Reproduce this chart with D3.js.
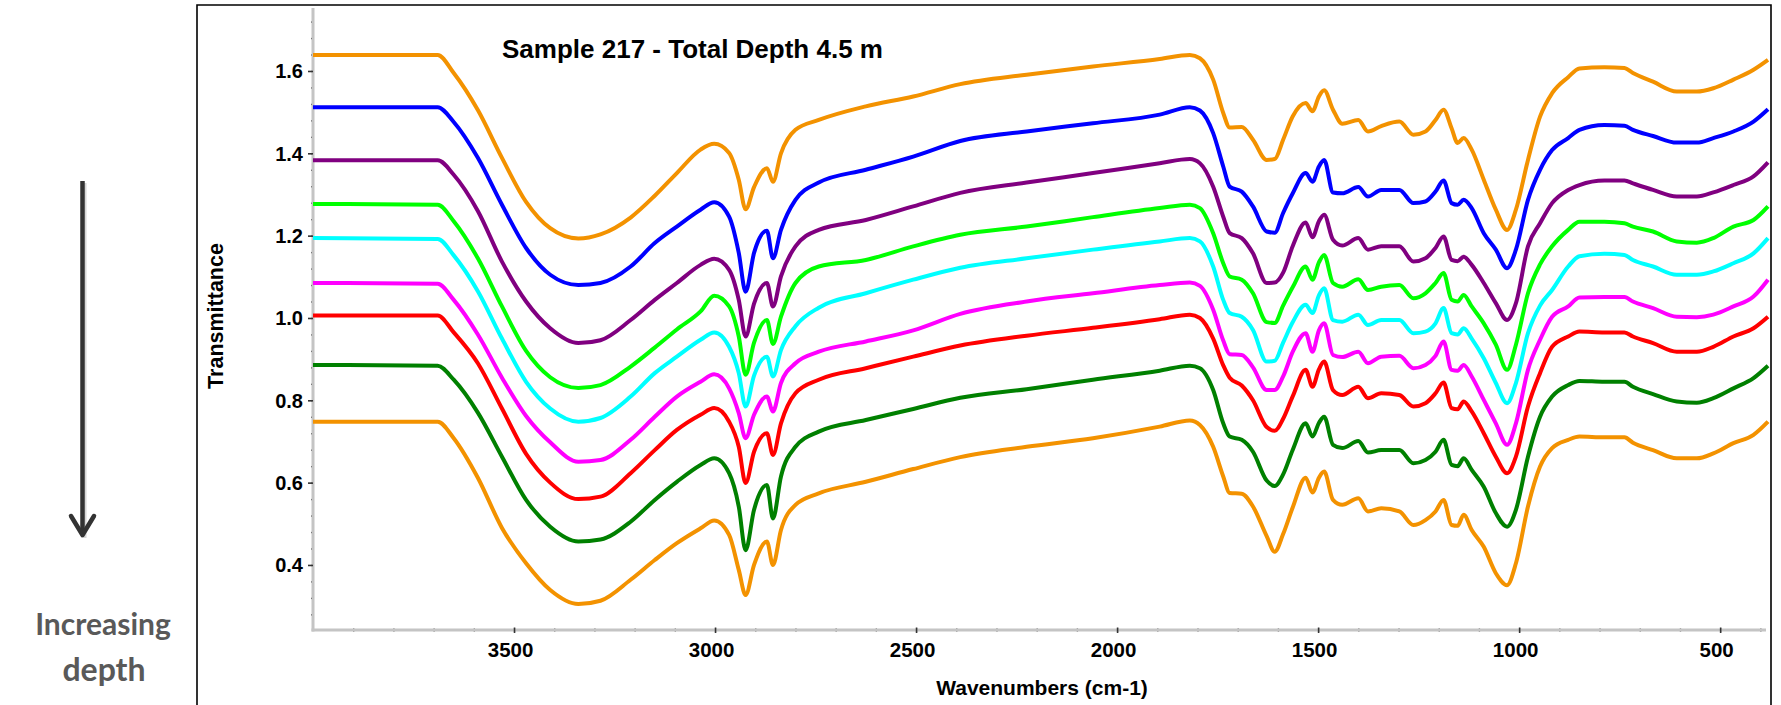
<!DOCTYPE html>
<html>
<head>
<meta charset="utf-8">
<script src="https://cdn.jsdelivr.net/npm/d3@7"></script>
<style>
  body { margin: 0; background: #fff; }
  svg { display: block; }
  .lbl { font-family: "Liberation Sans", Arial, sans-serif; font-weight: bold; fill: #000; }
</style>
</head>
<body>
<svg id="chart" width="1781" height="705"></svg>
<script>
// wavenumber grid (cm-1), shared by every spectrum
var wavenumbers = [4000, 3690, 3650, 3590, 3530, 3470, 3410, 3340, 3285, 3210,
  3150, 3095, 3036, 3002, 2965, 2941, 2924, 2903, 2871, 2856,
  2836, 2800, 2742, 2625, 2507, 2390, 2225, 2060, 1894, 1819,
  1794, 1761, 1736, 1720, 1690, 1662, 1628, 1608, 1587, 1563,
  1531, 1514, 1498, 1485, 1463, 1440, 1400, 1376, 1343, 1298,
  1263, 1233, 1208, 1188, 1168, 1153, 1138, 1118, 1088, 1058,
  1030, 1008, 978, 948, 918, 878, 850, 788, 738, 717,
  667, 608, 558, 517, 467, 417, 381];

// transmittance, top spectrum first (shallowest)
var orangeTop = [1.639, 1.639, 1.595, 1.505, 1.389, 1.282, 1.218, 1.193, 1.203, 1.244,
  1.297, 1.352, 1.409, 1.423, 1.401, 1.336, 1.264, 1.318, 1.364, 1.331,
  1.400, 1.457, 1.481, 1.514, 1.538, 1.568, 1.591, 1.611, 1.629, 1.639,
  1.631, 1.579, 1.498, 1.463, 1.464, 1.433, 1.384, 1.386, 1.433, 1.490,
  1.522, 1.502, 1.538, 1.553, 1.506, 1.472, 1.481, 1.453, 1.466, 1.477,
  1.445, 1.453, 1.481, 1.506, 1.461, 1.425, 1.437, 1.409, 1.336, 1.263,
  1.214, 1.263, 1.384, 1.489, 1.546, 1.585, 1.606, 1.609, 1.607, 1.595,
  1.574, 1.550, 1.550, 1.558, 1.579, 1.603, 1.627];
var blue = [1.512, 1.512, 1.476, 1.389, 1.275, 1.170, 1.105, 1.080, 1.085, 1.125,
  1.182, 1.222, 1.263, 1.281, 1.246, 1.158, 1.064, 1.158, 1.212, 1.145,
  1.214, 1.287, 1.329, 1.360, 1.392, 1.430, 1.453, 1.473, 1.494, 1.512,
  1.504, 1.449, 1.368, 1.319, 1.307, 1.271, 1.210, 1.207, 1.255, 1.303,
  1.352, 1.331, 1.368, 1.384, 1.305, 1.303, 1.318, 1.295, 1.311, 1.311,
  1.279, 1.283, 1.307, 1.334, 1.279, 1.275, 1.287, 1.267, 1.206, 1.166,
  1.121, 1.166, 1.287, 1.360, 1.408, 1.437, 1.457, 1.469, 1.467, 1.457,
  1.442, 1.426, 1.426, 1.437, 1.453, 1.477, 1.507];
var purple = [1.383, 1.383, 1.348, 1.260, 1.137, 1.040, 0.975, 0.939, 0.946, 0.995,
  1.044, 1.085, 1.129, 1.144, 1.117, 1.044, 0.955, 1.035, 1.085, 1.028,
  1.101, 1.174, 1.214, 1.238, 1.271, 1.304, 1.329, 1.352, 1.376, 1.386,
  1.376, 1.319, 1.246, 1.206, 1.194, 1.157, 1.085, 1.086, 1.110, 1.175,
  1.232, 1.196, 1.235, 1.251, 1.190, 1.176, 1.194, 1.166, 1.174, 1.174,
  1.137, 1.145, 1.170, 1.198, 1.141, 1.138, 1.149, 1.129, 1.085, 1.036,
  0.995, 1.036, 1.174, 1.230, 1.279, 1.311, 1.323, 1.334, 1.334, 1.327,
  1.311, 1.295, 1.295, 1.305, 1.323, 1.344, 1.378];
var lime = [1.277, 1.275, 1.235, 1.145, 1.028, 0.920, 0.856, 0.830, 0.837, 0.882,
  0.928, 0.972, 1.016, 1.054, 1.028, 0.955, 0.862, 0.940, 0.995, 0.937,
  1.003, 1.085, 1.125, 1.141, 1.174, 1.202, 1.222, 1.245, 1.267, 1.275,
  1.267, 1.206, 1.133, 1.101, 1.093, 1.060, 0.990, 0.988, 1.030, 1.075,
  1.125, 1.093, 1.135, 1.153, 1.085, 1.076, 1.094, 1.068, 1.076, 1.080,
  1.048, 1.060, 1.085, 1.109, 1.044, 1.040, 1.056, 1.028, 0.987, 0.935,
  0.874, 0.935, 1.060, 1.130, 1.174, 1.214, 1.234, 1.234, 1.230, 1.222,
  1.210, 1.186, 1.183, 1.194, 1.222, 1.238, 1.271];
var cyan = [1.194, 1.192, 1.152, 1.065, 0.950, 0.845, 0.780, 0.748, 0.757, 0.809,
  0.866, 0.906, 0.947, 0.965, 0.930, 0.866, 0.785, 0.860, 0.906, 0.858,
  0.922, 0.980, 1.025, 1.060, 1.093, 1.122, 1.145, 1.166, 1.186, 1.194,
  1.186, 1.125, 1.044, 1.012, 1.003, 0.971, 0.894, 0.896, 0.940, 0.990,
  1.032, 1.012, 1.055, 1.072, 0.995, 0.991, 1.008, 0.983, 0.995, 0.995,
  0.963, 0.967, 0.987, 1.024, 0.963, 0.960, 0.975, 0.950, 0.902, 0.842,
  0.793, 0.842, 0.963, 1.030, 1.068, 1.125, 1.150, 1.156, 1.153, 1.141,
  1.125, 1.105, 1.105, 1.113, 1.133, 1.157, 1.194];
var magenta = [1.085, 1.083, 1.044, 0.960, 0.855, 0.762, 0.698, 0.651, 0.655, 0.704,
  0.760, 0.809, 0.845, 0.863, 0.829, 0.769, 0.708, 0.765, 0.809, 0.773,
  0.842, 0.890, 0.918, 0.943, 0.970, 1.010, 1.040, 1.060, 1.080, 1.086,
  1.078, 1.020, 0.945, 0.912, 0.910, 0.880, 0.825, 0.825, 0.858, 0.918,
  0.963, 0.918, 0.970, 0.987, 0.910, 0.905, 0.918, 0.890, 0.906, 0.908,
  0.878, 0.886, 0.908, 0.943, 0.874, 0.872, 0.886, 0.858, 0.801, 0.744,
  0.692, 0.744, 0.874, 0.947, 1.003, 1.028, 1.050, 1.051, 1.051, 1.040,
  1.024, 1.003, 1.002, 1.008, 1.028, 1.052, 1.093];
var red = [1.006, 1.006, 0.965, 0.890, 0.780, 0.670, 0.600, 0.560, 0.566, 0.623,
  0.679, 0.728, 0.765, 0.781, 0.748, 0.687, 0.599, 0.675, 0.720, 0.667,
  0.744, 0.817, 0.850, 0.878, 0.906, 0.933, 0.957, 0.976, 0.997, 1.008,
  1.000, 0.950, 0.885, 0.855, 0.836, 0.800, 0.735, 0.726, 0.755, 0.810,
  0.874, 0.833, 0.875, 0.894, 0.825, 0.813, 0.833, 0.805, 0.817, 0.813,
  0.785, 0.793, 0.817, 0.843, 0.781, 0.778, 0.797, 0.773, 0.720, 0.663,
  0.623, 0.663, 0.785, 0.866, 0.930, 0.955, 0.967, 0.965, 0.965, 0.955,
  0.939, 0.918, 0.918, 0.930, 0.955, 0.975, 1.003];
var green = [0.886, 0.884, 0.850, 0.770, 0.663, 0.558, 0.493, 0.457, 0.462, 0.505,
  0.558, 0.602, 0.643, 0.659, 0.623, 0.542, 0.436, 0.534, 0.594, 0.513,
  0.615, 0.687, 0.724, 0.752, 0.779, 0.806, 0.827, 0.850, 0.872, 0.884,
  0.878, 0.825, 0.744, 0.712, 0.704, 0.675, 0.605, 0.592, 0.620, 0.680,
  0.744, 0.712, 0.745, 0.760, 0.692, 0.684, 0.701, 0.673, 0.679, 0.679,
  0.647, 0.655, 0.675, 0.704, 0.643, 0.640, 0.659, 0.631, 0.590, 0.526,
  0.493, 0.534, 0.663, 0.760, 0.809, 0.837, 0.847, 0.845, 0.845, 0.833,
  0.815, 0.797, 0.794, 0.805, 0.829, 0.854, 0.884];
var orangeBottom = [0.748, 0.748, 0.708, 0.612, 0.490, 0.404, 0.339, 0.305, 0.313, 0.364,
  0.412, 0.453, 0.489, 0.508, 0.473, 0.388, 0.327, 0.400, 0.457, 0.400,
  0.485, 0.546, 0.574, 0.602, 0.633, 0.662, 0.687, 0.708, 0.736, 0.751,
  0.740, 0.687, 0.615, 0.575, 0.573, 0.542, 0.470, 0.432, 0.475, 0.540,
  0.612, 0.576, 0.612, 0.627, 0.558, 0.546, 0.562, 0.530, 0.538, 0.530,
  0.497, 0.509, 0.530, 0.558, 0.497, 0.495, 0.522, 0.485, 0.444, 0.380,
  0.351, 0.404, 0.542, 0.639, 0.684, 0.704, 0.712, 0.710, 0.710, 0.697,
  0.679, 0.659, 0.659, 0.671, 0.696, 0.716, 0.748];

var spectra = [orangeTop, blue, purple, lime, cyan, magenta, red, green, orangeBottom];
var spectraColors = ["#f39200", "#0000ff", "#800080", "#00ff00", "#00ffff",
  "#ff00ff", "#ff0000", "#008000", "#f39200"];

// axis ticks
var yMajorTicks = [0.4, 0.6, 0.8, 1.0, 1.2, 1.4, 1.6];
var xMajorTicks = [3500, 3000, 2500, 2000, 1500, 1000, 500];

var chartTitle = "Sample 217 - Total Depth 4.5 m";
var xTitle = "Wavenumbers (cm-1)";
var yTitle = "Transmittance";

var svg = d3.select("#chart");

// plot box (careful: "top" is taken by window.top)
var plotLeft = 313, plotRight = 1768, plotTop = 8, plotBottom = 630;

var x = d3.scaleLinear().domain([4000, 381]).range([plotLeft, plotRight]);
var y = d3.scaleLinear().domain([0.242, 1.753]).range([plotBottom, plotTop]);

// outer frame (no bottom edge, it runs off the picture)
svg.append("path")
  .attr("d", "M197,706 L197,5 L1771,5 L1771,706")
  .attr("fill", "none")
  .attr("stroke", "#000")
  .attr("stroke-width", 1.6);

// minor ticks first, the labelled axis goes on top
var yMinor = d3.range(0.28, 1.75, 0.04);
svg.append("g")
  .attr("transform", "translate(" + plotLeft + ",0)")
  .call(d3.axisLeft(y).tickValues(yMinor).tickSize(3).tickSizeOuter(0).tickFormat(""))
  .call(function(g) { g.select(".domain").remove(); })
  .selectAll("line").attr("stroke", "#333").attr("stroke-width", 1.4).attr("x2", -2).attr("x1", 1);

var xMinor = d3.range(3900, 380, -100);
svg.append("g")
  .attr("transform", "translate(0," + plotBottom + ")")
  .call(d3.axisBottom(x).tickValues(xMinor).tickSize(3).tickSizeOuter(0).tickFormat(""))
  .call(function(g) { g.select(".domain").remove(); })
  .selectAll("line").attr("stroke", "#333").attr("stroke-width", 1.4).attr("y1", -1.5).attr("y2", 1.5);

// grey axis lines
svg.append("line")
  .attr("x1", plotLeft).attr("x2", plotLeft).attr("y1", plotTop).attr("y2", plotBottom + 1.5)
  .attr("stroke", "#c4c4c4").attr("stroke-width", 3);
svg.append("line")
  .attr("x1", plotLeft - 1.5).attr("x2", plotRight - 2).attr("y1", plotBottom).attr("y2", plotBottom)
  .attr("stroke", "#c4c4c4").attr("stroke-width", 3);

var yAxis = svg.append("g")
  .attr("transform", "translate(" + plotLeft + ",0)")
  .call(d3.axisLeft(y).tickValues(yMajorTicks).tickSize(5).tickPadding(5)
    .tickSizeOuter(0).tickFormat(d3.format(".1f")));
yAxis.select(".domain").remove();
yAxis.selectAll("line").attr("stroke", "#333").attr("stroke-width", 1.6);
yAxis.selectAll("text").attr("class", "lbl").attr("font-size", 20).attr("dy", "0.35em");

var xAxis = svg.append("g")
  .attr("transform", "translate(0," + plotBottom + ")")
  .call(d3.axisBottom(x).tickValues(xMajorTicks).tickSize(3).tickPadding(9)
    .tickSizeOuter(0).tickFormat(d3.format("d")));
xAxis.select(".domain").remove();
xAxis.selectAll("line").attr("stroke", "#333").attr("stroke-width", 1.6).attr("y1", -2.5);
xAxis.selectAll("text").attr("class", "lbl").attr("font-size", 20.5).attr("dx", -4);

// spectra
var line = d3.line()
  .x(function(d, i) { return x(wavenumbers[i]); })
  .y(function(d) { return y(d); })
  .curve(d3.curveMonotoneX);

svg.append("g")
  .selectAll("path")
  .data(spectra)
  .enter()
  .append("path")
  .attr("d", line)
  .attr("fill", "none")
  .attr("stroke", function(d, i) { return spectraColors[i]; })
  .attr("stroke-width", 4)
  .attr("stroke-linejoin", "round");

// titles
svg.append("text").attr("class", "lbl")
  .attr("x", 502).attr("y", 58)
  .attr("font-size", 26)
  .text(chartTitle);

svg.append("text").attr("class", "lbl")
  .attr("x", 1042).attr("y", 695)
  .attr("text-anchor", "middle")
  .attr("font-size", 21)
  .text(xTitle);

svg.append("text").attr("class", "lbl")
  .attr("transform", "translate(223,316) rotate(-90)")
  .attr("text-anchor", "middle")
  .attr("font-size", 21.5)
  .text(yTitle);

// "increasing depth" arrow on the left
var arrow = svg.append("g");
arrow.append("line")
  .attr("x1", 84).attr("y1", 183).attr("x2", 84).attr("y2", 538)
  .attr("stroke", "#b0b0b0").attr("stroke-width", 5).attr("opacity", 0.5);
arrow.append("line")
  .attr("x1", 82.5).attr("y1", 181).attr("x2", 82.5).attr("y2", 535)
  .attr("stroke", "#333").attr("stroke-width", 4.5);
arrow.append("path")
  .attr("d", "M71,516 L82.5,535 L94,516")
  .attr("fill", "none")
  .attr("stroke", "#333").attr("stroke-width", 4.5)
  .attr("stroke-linecap", "round").attr("stroke-linejoin", "round");

svg.append("text")
  .attr("x", 103).attr("y", 635)
  .attr("text-anchor", "middle")
  .attr("font-family", "Lato, 'Open Sans', sans-serif")
  .attr("font-weight", "bold")
  .attr("font-size", 30)
  .attr("fill", "#595959")
  .text("Increasing");
svg.append("text")
  .attr("x", 104).attr("y", 681)
  .attr("text-anchor", "middle")
  .attr("font-family", "Lato, 'Open Sans', sans-serif")
  .attr("font-weight", "bold")
  .attr("font-size", 32)
  .attr("fill", "#595959")
  .text("depth");
</script>
</body>
</html>
